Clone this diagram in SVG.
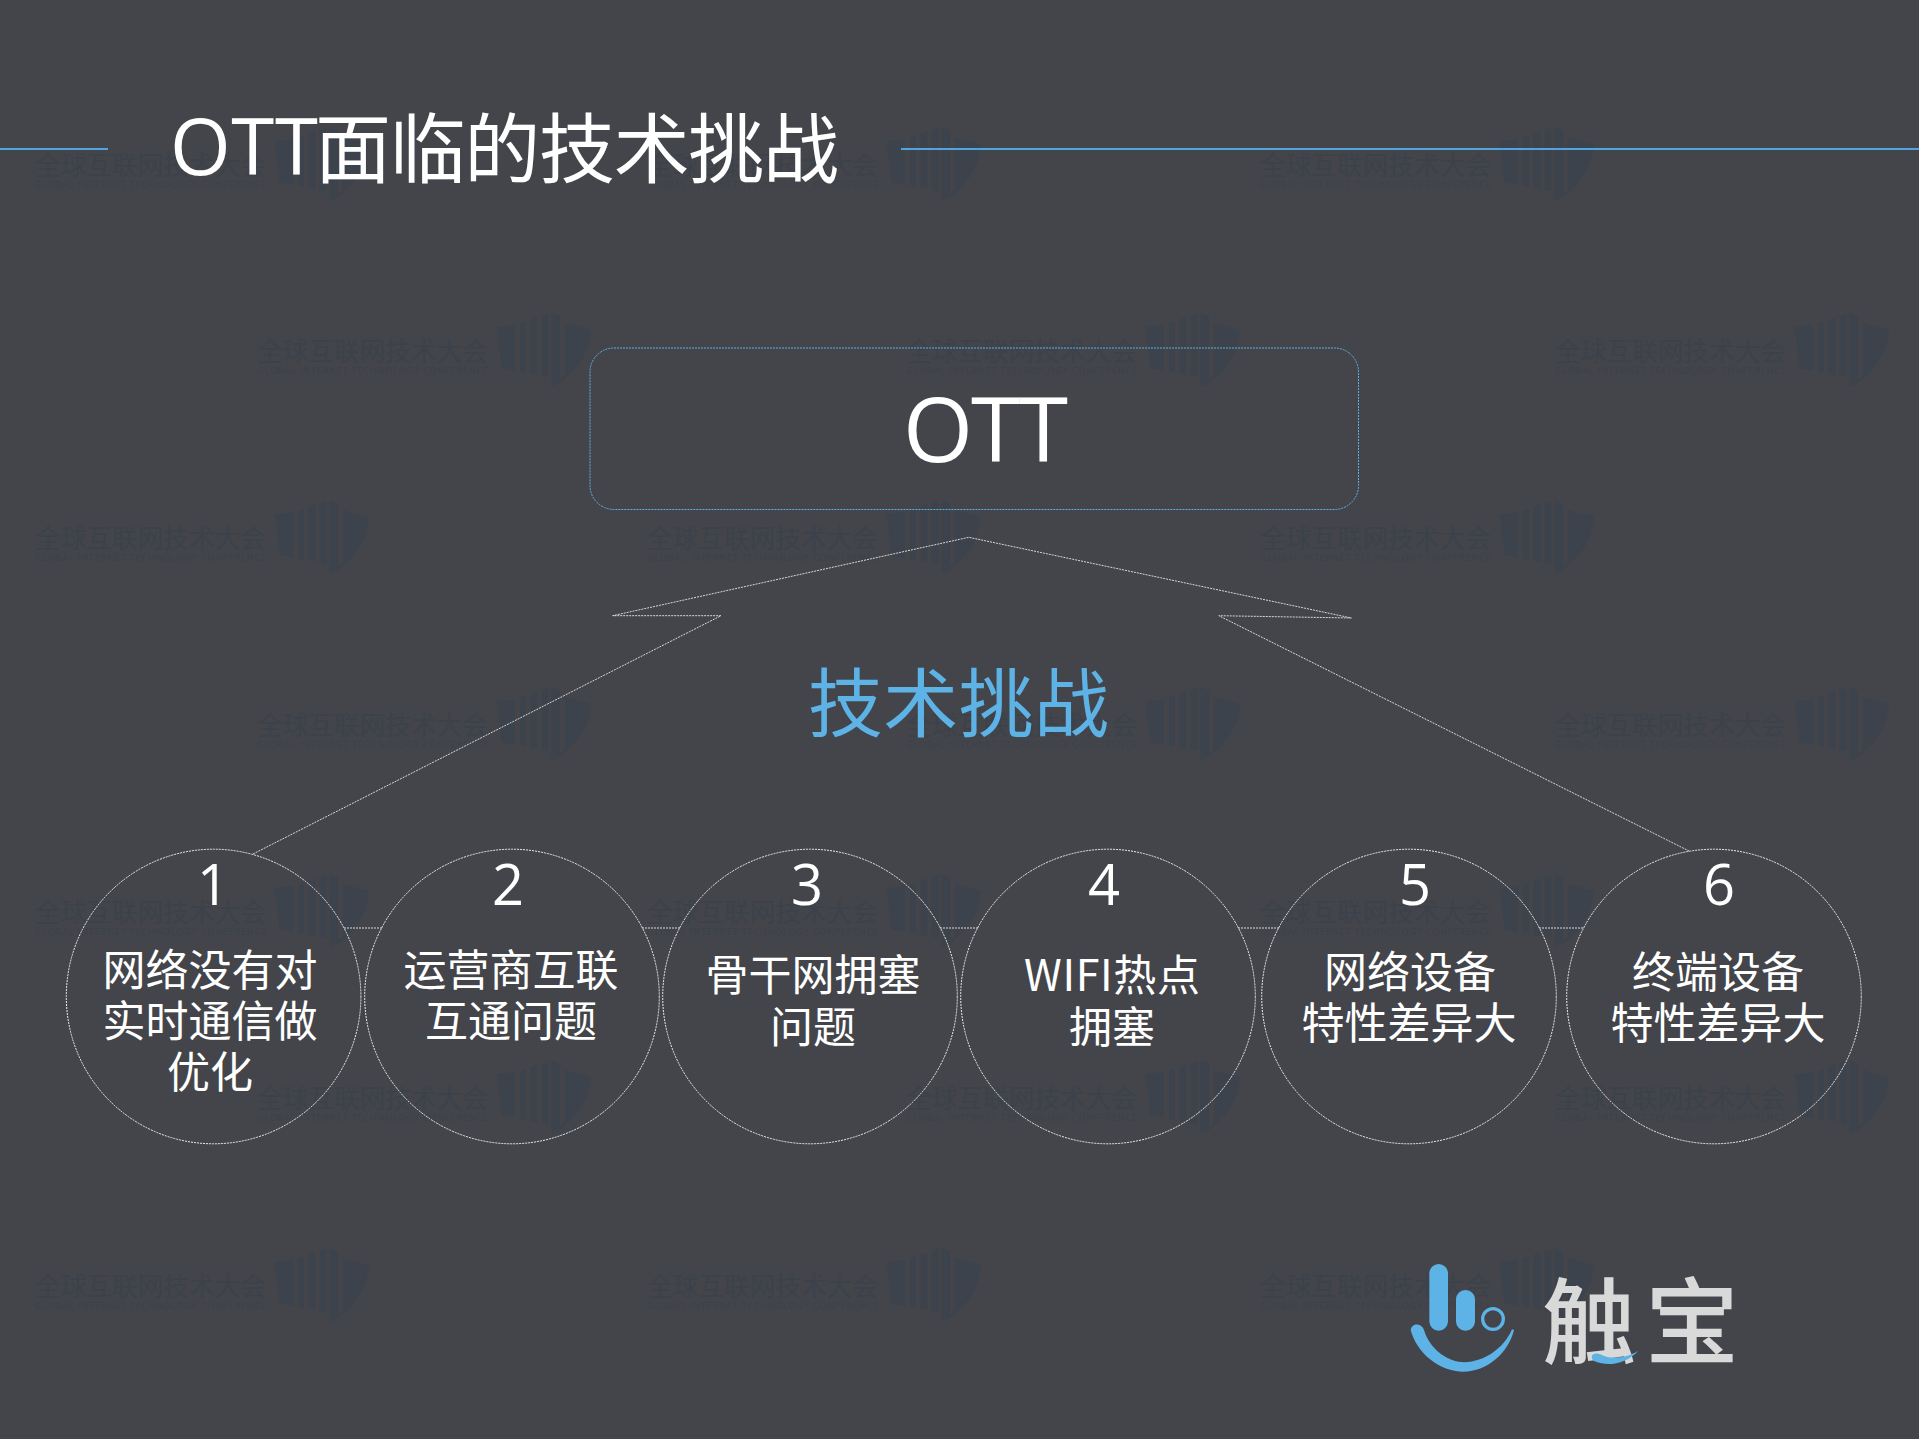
<svg xmlns="http://www.w3.org/2000/svg" xmlns:xlink="http://www.w3.org/1999/xlink" width="1919" height="1439" viewBox="0 0 1919 1439">
<style>
.cjk{font-family:"Noto Sans CJK SC","Open Sans",sans-serif;font-weight:400}
.lat{font-family:"Open Sans","Noto Sans CJK SC",sans-serif;font-weight:400}
.w{fill:#ffffff}
.lbl{font-size:43px;text-anchor:middle}
.num{font-size:56px;text-anchor:middle}
.ci{fill:none;stroke:#eeeeee;stroke-width:1;stroke-dasharray:2 1}
.con{fill:none;stroke:#d8d8d8;stroke-width:1;stroke-dasharray:2 1}
.rule{stroke:#4ea6dc;stroke-width:2}
.wmt{fill:#3c424b;font-size:25.7px}
.wms{fill:#3c424b;font-size:9px}
.wml{fill:#3c434c}
.blue{fill:#5db2e6}
.brand{font-family:"Noto Sans CJK SC",sans-serif;font-weight:500;font-size:94px;fill:#d9d9d9}
</style>
<defs>
<g id="wm">
<text class="cjk wmt" x="0" y="0" textLength="231">全球互联网技术大会</text>
<text class="lat wms" x="0" y="13" textLength="231">GLOBAL INTERNET TECHNOLOGY CONFERENCE</text>
<g transform="scale(.3333) translate(-51 -183)" class="wml">
<path d="M770 82L825 75V212L785 205Z"/>
<path d="M840 72L858 65V218L840 214Z"/>
<path d="M872 60L892 52V225L872 221Z"/>
<path d="M905 48L925 42V230L905 228Z"/>
<path d="M935 40L960 50V240L935 260Z"/>
<path d="M975 70L1052 90C1050 150 1020 210 940 262L975 225Z"/>
</g>
</g>
</defs>
<rect width="1919" height="1439" fill="#43454a"/>
<g id="watermarks">
<use href="#wm" x="35" y="175"/><use href="#wm" x="647" y="175"/><use href="#wm" x="1260" y="175"/>
<use href="#wm" x="257" y="361"/><use href="#wm" x="906" y="361"/><use href="#wm" x="1555" y="361"/>
<use href="#wm" x="35" y="548"/><use href="#wm" x="647" y="548"/><use href="#wm" x="1260" y="548"/>
<use href="#wm" x="257" y="735"/><use href="#wm" x="906" y="735"/><use href="#wm" x="1555" y="735"/>
<use href="#wm" x="35" y="922"/><use href="#wm" x="647" y="922"/><use href="#wm" x="1260" y="922"/>
<use href="#wm" x="257" y="1108"/><use href="#wm" x="906" y="1108"/><use href="#wm" x="1555" y="1108"/>
<use href="#wm" x="35" y="1296"/><use href="#wm" x="647" y="1296"/><use href="#wm" x="1260" y="1296"/>
</g>
<g id="title">
<line class="rule" x1="0" y1="149" x2="108" y2="149"/>
<line class="rule" x1="901" y1="149" x2="1919" y2="149"/>
<text class="lat w" x="170" y="175" font-size="78" textLength="148">OTT</text>
<text class="cjk w" x="315" y="177" font-size="76" textLength="524">面临的技术挑战</text>
</g>
<g id="connectors">
<polyline class="con" points="253,854 721,615.7 612.6,615.7 968.8,537.3 1351.4,618 1218.8,615.7 1689,851"/>
<line class="con" x1="344" y1="928" x2="382" y2="928"/>
<line class="con" x1="642" y1="928" x2="680" y2="928"/>
<line class="con" x1="940" y1="928" x2="978" y2="928"/>
<line class="con" x1="1238" y1="928" x2="1279" y2="928"/>
<line class="con" x1="1539" y1="928" x2="1584" y2="928"/>
</g>
<g id="node-ott">
<rect x="590" y="348" width="768.5" height="161.5" rx="24" fill="none" stroke="#5eb0e2" stroke-width="1" stroke-dasharray="2 1"/>
<text class="lat w" x="903" y="462" font-size="90" textLength="165">OTT</text>
</g>
<g id="label-challenge">
<text class="cjk blue" x="808" y="731" font-size="75" textLength="301">技术挑战</text>
</g>
<g id="node-1">
<circle class="ci" cx="213.6" cy="996.5" r="147.3"/>
<text class="lat w num" x="213" y="905">1</text>
<text class="cjk w lbl" x="210" y="986">网络没有对</text>
<text class="cjk w lbl" x="210" y="1037">实时通信做</text>
<text class="cjk w lbl" x="210" y="1088">优化</text>
</g>
<g id="node-2">
<circle class="ci" cx="512" cy="996.5" r="147.3"/>
<text class="lat w num" x="508" y="905">2</text>
<text class="cjk w lbl" x="511" y="986">运营商互联</text>
<text class="cjk w lbl" x="511" y="1037">互通问题</text>
</g>
<g id="node-3">
<circle class="ci" cx="810" cy="996.5" r="147.3"/>
<text class="lat w num" x="807" y="905">3</text>
<text class="cjk w lbl" x="813" y="991">骨干网拥塞</text>
<text class="cjk w lbl" x="813" y="1043">问题</text>
</g>
<g id="node-4">
<circle class="ci" cx="1108" cy="996.5" r="147.3"/>
<text class="lat w num" x="1104" y="905">4</text>
<text class="cjk w lbl" x="1112" y="991" textLength="176">WIFI热点</text>
<text class="cjk w lbl" x="1112" y="1043">拥塞</text>
</g>
<g id="node-5">
<circle class="ci" cx="1409" cy="996.5" r="147.3"/>
<text class="lat w num" x="1415" y="905">5</text>
<text class="cjk w lbl" x="1410" y="988">网络设备</text>
<text class="cjk w lbl" x="1409" y="1039">特性差异大</text>
</g>
<g id="node-6">
<circle class="ci" cx="1714" cy="996.5" r="147.3"/>
<text class="lat w num" x="1719" y="905">6</text>
<text class="cjk w lbl" x="1718" y="988">终端设备</text>
<text class="cjk w lbl" x="1718" y="1039">特性差异大</text>
</g>
<g id="logo">
<text class="brand" x="1542" y="1357">触</text>
<text class="brand" x="1645" y="1357">宝</text>
<g transform="translate(1380 1230) scale(.33333)" class="blue">
<rect x="148" y="102" width="56" height="200" rx="28"/>
<rect x="228" y="180" width="57" height="122" rx="28"/>
<circle cx="339" cy="267" r="31" fill="none" stroke="#5db2e6" stroke-width="10"/>
<path d="M92 300C110 370 180 425 250 425C320 425 385 370 402 300L396 298C370 360 300 405 235 395C185 385 145 345 132 300C125 278 95 278 92 300Z"/>
<path d="M636 378C640 368 655 370 665 375C690 388 740 385 775 362C745 395 700 408 665 400C645 396 632 390 636 378Z"/>
</g>
</g>
</svg>
